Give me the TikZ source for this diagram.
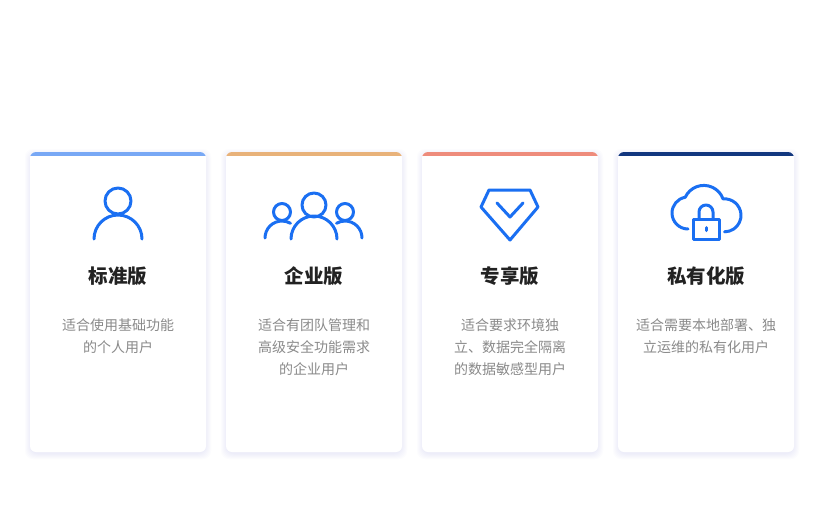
\documentclass[tikz,border=0pt]{standalone}
\usepackage{fontspec}
\setmainfont{Noto Sans CJK SC}
\definecolor{ic}{HTML}{1A6FF2}
\definecolor{ttl}{HTML}{222222}
\definecolor{dsc}{HTML}{8A8A8A}
\definecolor{ca}{HTML}{78A8F5}
\definecolor{cb}{HTML}{E8B27A}
\definecolor{cc}{HTML}{EE8C7C}
\definecolor{cd}{HTML}{12377F}
\definecolor{shd}{HTML}{8890F0}
\tikzset{
 icon/.style={draw=ic,line width=3pt,line cap=round,line join=round},
 ttlnode/.style={font=\fontsize{19.5}{22}\selectfont\bfseries,text=ttl},
 dscnode/.style={font=\fontsize{14}{22}\selectfont,text=dsc,align=center,anchor=north},
}
\newcommand{\card}[2]{%
 \foreach \s in {6,5,4,3,2,1}{\fill[shd,opacity=0.025,rounded corners=8pt] (#1-\s+1,152-\s+3) rectangle (#1+176+\s-1,452+\s+1);}
 \fill[white,rounded corners=6pt] (#1,152) rectangle ++(176,300);
 \begin{scope}
 \clip[rounded corners=6pt] (#1,152) rectangle ++(176,300);
 \fill[#2] (#1,152) rectangle ++(176,4);
 \end{scope}}
\begin{document}
\begin{tikzpicture}[x=1pt,y=-1pt]
\useasboundingbox[fill=white] (0,0) rectangle (824,523);
\card{30}{ca}\card{226}{cb}\card{422}{cc}\card{618}{cd}
% icon 1
\draw[icon] (118,201) circle (13);
\draw[icon] (94,239) arc[start angle=180,end angle=360,radius=24];
% icon 2
\draw[icon] (314,205) circle (12);
\draw[icon] (291,239) arc[start angle=180,end angle=360,radius=23];
\draw[icon] (282,212) circle (8.5);
\draw[icon] (345,212) circle (8.5);
\draw[icon] (265,238) arc[start angle=180,end angle=300,radius=17];
\draw[icon] (362,238) arc[start angle=0,end angle=-120,radius=17];
% icon 3
\draw[icon] (489,190) -- (530,190) -- (538,207) -- (510,240) -- (481,207) -- cycle;
\draw[icon] (497,203) -- (510,217) -- (523,203);
% icon 4
\draw[icon] (688,229) arc[start angle=90,end angle=260,radius=16] arc[start angle=-155,end angle=-20,radius=20.5] arc[start angle=-95,end angle=90,radius=16.5];
\draw[icon,fill=white] (693,219) rectangle (719,239);
\draw[icon] (699,219) -- (699,212) arc[start angle=180,end angle=360,radius=7] -- (713,219);
\draw[icon] (706,227.5) -- (706,230.5);
\node[ttlnode] (t1) at (118,276) {标准版};
\node[ttlnode] (t2) at (314,276) {企业版};
\node[ttlnode] (t3) at (510,276) {专享版};
\node[ttlnode] (t4) at (706,276) {私有化版};
\node[dscnode] (d1) at (118,315) {适合使用基础功能\\的个人用户};
\node[dscnode] (d2) at (314,315) {适合有团队管理和\\高级安全功能需求\\的企业用户};
\node[dscnode] (d3) at (510,315) {适合要求环境独\\立、数据完全隔离\\的数据敏感型用户};
\node[dscnode] (d4) at (706,315) {适合需要本地部署、独\\立运维的私有化用户};
\end{tikzpicture}
\end{document}
